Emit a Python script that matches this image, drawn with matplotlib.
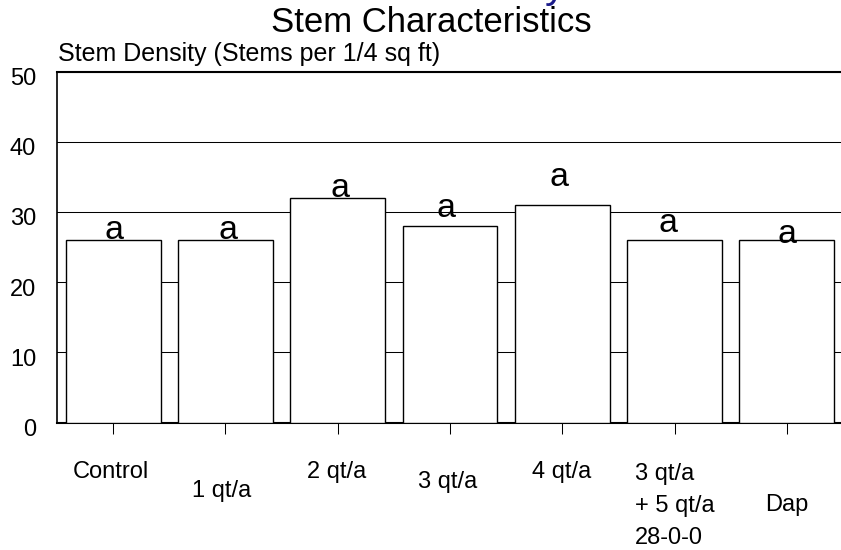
import matplotlib
matplotlib.use("Agg")
import matplotlib.pyplot as plt
from matplotlib.transforms import ScaledTranslation

plt.rcParams["font.family"] = ["Liberation Sans", "DejaVu Sans"]

# Treatments, stem density values and mean-separation letters
categories = ["Control", "1 qt/a", "2 qt/a", "3 qt/a", "4 qt/a",
              "3 qt/a\n+ 5 qt/a\n28-0-0", "Dap"]
stem_density = [26, 26, 32, 28, 31, 26, 26]
letters = ["a", "a", "a", "a", "a", "a", "a"]
y_ticks = [0, 10, 20, 30, 40, 50]

W, H, DPI = 841, 550, 100
fig = plt.figure(figsize=(W / DPI, H / DPI), dpi=DPI)

# axes box in pixels: left 57, right just past the canvas, y=0 at 422.5, y=50 at 71.5
ax_left, ax_right, ax_bottom, ax_top = 57, 843, 422.5, 71.5
ax = fig.add_axes([ax_left / W, 1 - ax_bottom / H,
                   (ax_right - ax_left) / W, (ax_bottom - ax_top) / H])

x = list(range(len(categories)))
ax.bar(x, stem_density, width=0.846, color="white", edgecolor="black",
       linewidth=1.0, zorder=3)

ax.set_xlim(-0.5, len(categories) - 0.5)
ax.set_ylim(0, 50)
ax.set_yticks(y_ticks)
ax.set_yticklabels([str(v) for v in y_ticks])
ax.yaxis.grid(True, color="black", linewidth=0.75)
ax.set_axisbelow(True)

for side in ("top", "bottom"):
    ax.spines[side].set_linewidth(1.5)
ax.spines["left"].set_linewidth(1.2)
ax.spines["right"].set_visible(False)

ax.tick_params(axis="y", length=0, pad=15, labelsize=17)
ax.tick_params(axis="x", direction="out", length=8, width=0.75,
               labelbottom=False)
ax.set_xticks(x)

# nudge y tick labels slightly below their gridlines
shift = ScaledTranslation(0, -5 / DPI, fig.dpi_scale_trans)
for lab in ax.get_yticklabels():
    lab.set_transform(lab.get_transform() + shift)

# staggered category labels (pixel offsets from the axis line to the
# baseline of each label's last line)
label_dx = [-2, -4, -1, -2, -1, -40, 0]
label_dy = [-55.5, -74.5, -55.5, -65.5, -55.5, -121.5, -88.5]
label_ha = ["center", "center", "center", "center", "center", "left", "center"]
for i, name in enumerate(categories):
    ax.annotate(name, xy=(i, 0), xycoords=("data", "axes fraction"),
                xytext=(label_dx[i], label_dy[i]), textcoords="offset pixels",
                ha=label_ha[i], va="baseline", fontsize=17, linespacing=1.6,
                annotation_clip=False)

# significance letters above the bars
letter_dx = [0.01, 0.02, 0.02, -0.04, -0.03, -0.06, 0.0]
letter_dy = [0.1, 0.1, 0.1, 1.3, 2.7, 1.1, -0.4]
for i, (v, s) in enumerate(zip(stem_density, letters)):
    ax.text(i + letter_dx[i], v + letter_dy[i], s, ha="center",
            va="baseline", fontsize=24.5, zorder=4)

fig.text(431.5 / W, 1 - 32 / H, "Stem Characteristics", ha="center",
         va="baseline", fontsize=25)
fig.text(58 / W, 1 - 61 / H, "Stem Density (Stems per 1/4 sq ft)",
         ha="left", va="baseline", fontsize=18)
# tail of the heading line above
fig.text(545 / W, 1 + 3 / H, "y", ha="left", va="baseline", fontsize=30,
         color="#1b1b8a")

fig.savefig("out.png", dpi=DPI)
